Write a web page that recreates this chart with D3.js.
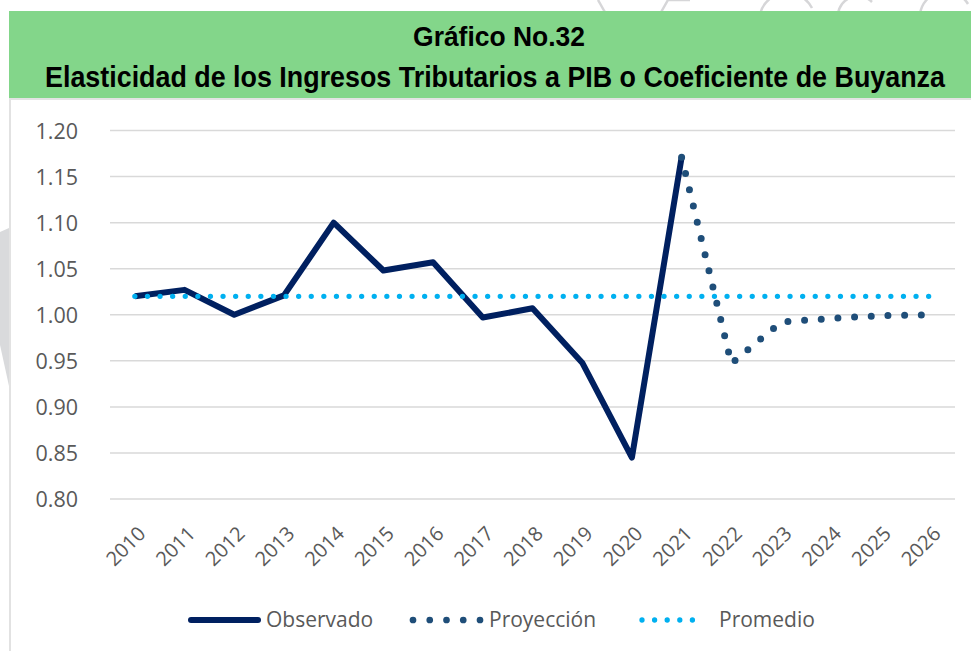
<!DOCTYPE html>
<html lang="es">
<head>
    <meta charset="UTF-8">
    <title>Gráfico No.32</title>
    <style>
        body { margin: 0; background: #fff; }
        .title text {
            font-family: "Liberation Sans Narrow", "Arial Narrow", "Liberation Sans", sans-serif;
            font-weight: bold;
            fill: #000;
        }
        .axis text, .legend text {
            font-family: "Open Sans", "Noto Sans", sans-serif;
            fill: #595959;
        }
        .grid line { stroke: #d9d9d9; stroke-width: 1.5px; }
        .mark { fill: none; stroke: #d6d6d8; stroke-width: 2.5px; }
    </style>
    <script src="https://d3js.org/d3.v7.min.js"></script>
</head>
<body>
    <script>
        // Data
        const years = ["2010", "2011", "2012", "2013", "2014", "2015", "2016", "2017", "2018",
                       "2019", "2020", "2021", "2022", "2023", "2024", "2025", "2026"];
        const observado = [1.02, 1.027, 1.00, 1.021, 1.10, 1.048, 1.057, 0.997, 1.007, 0.948, 0.845, 1.171,
                           null, null, null, null, null];
        const proyeccion = [null, null, null, null, null, null, null, null, null, null, null, 1.171,
                            0.947, 0.992, 0.996, 0.999, 1.000];
        const promedio = [1.02, 1.02, 1.02, 1.02, 1.02, 1.02, 1.02, 1.02, 1.02, 1.02, 1.02, 1.02,
                          1.02, 1.02, 1.02, 1.02, 1.02];
        const yTicks = [0.80, 0.85, 0.90, 0.95, 1.00, 1.05, 1.10, 1.15, 1.20];
        const titleLines = ["Gráfico No.32", "Elasticidad de los Ingresos Tributarios a PIB o Coeficiente de Buyanza"];

        const width = 971, height = 651;
        const svg = d3.select("body").append("svg")
            .attr("width", width).attr("height", height);

        // faint watermark bits behind the chart
        const wm = svg.append("g").attr("class", "mark");
        wm.append("path").attr("d", "M598,0 L606,14");
        wm.append("path").attr("d", "M660,14 L668,0 M668,0 L690,0");
        wm.append("path").attr("d", "M760,14 A28,28 0 0 1 812,8");
        wm.append("path").attr("d", "M838,14 A20,20 0 0 1 872,2");
        wm.append("path").attr("d", "M920,14 A26,26 0 0 1 968,4");
        svg.append("polygon")
            .attr("points", "0,232 9,228 9,386 0,345")
            .attr("fill", "#d9dadc");

        // frame + header band
        svg.append("line")
            .attr("x1", 10).attr("x2", 10).attr("y1", 98).attr("y2", height)
            .attr("stroke", "#d9d9d9").attr("stroke-width", 1.5);
        svg.append("rect")
            .attr("x", 9).attr("y", 98).attr("width", width - 9).attr("height", 2)
            .attr("fill", "#e3e3e3");
        svg.append("rect")
            .attr("x", 9).attr("y", 11).attr("width", width - 9).attr("height", 87)
            .attr("fill", "#83d68a");

        // title, squeezed horizontally to the narrow look of the original
        const title = svg.append("g").attr("class", "title");
        const titleSpec = [
            { text: titleLines[0], cx: 499, y: 46, size: 28, w: 172 },
            { text: titleLines[1], cx: 495, y: 87, size: 30, w: 900 }
        ];
        titleSpec.forEach(t => {
            const g = title.append("g").attr("transform", `translate(${t.cx},${t.y})`);
            const txt = g.append("text").attr("text-anchor", "middle")
                .style("font-size", t.size + "px").text(t.text);
            const natural = txt.node().getComputedTextLength();
            txt.attr("transform", `scale(${t.w / natural},1)`);
        });

        // scales
        const x = d3.scaleBand().domain(years).range([110, 955]);
        const y = d3.scaleLinear().domain([0.8, 1.2]).range([499, 130.5]);
        const cx = d => x(d) + x.bandwidth() / 2;

        svg.append("g").attr("class", "grid")
            .selectAll("line").data(yTicks).enter().append("line")
            .attr("x1", 110).attr("x2", 955)
            .attr("y1", d => y(d)).attr("y2", d => y(d));

        const yAxis = svg.append("g").attr("class", "axis")
            .attr("transform", "translate(78,0)")
            .call(d3.axisLeft(y).tickValues(yTicks).tickFormat(d3.format(".2f")).tickSize(0).tickPadding(0));
        yAxis.select(".domain").remove();
        yAxis.selectAll("text").style("font-size", "21.5px").attr("dy", "0.35em");

        const xAxis = svg.append("g").attr("class", "axis")
            .attr("transform", "translate(0,530)")
            .call(d3.axisBottom(x).tickSize(0).tickPadding(0));
        xAxis.select(".domain").remove();
        xAxis.selectAll("text")
            .style("font-size", "20px")
            .attr("text-anchor", "end")
            .attr("dy", "0.35em")
            .attr("transform", "translate(7,0) rotate(-45)");

        const line = d3.line()
            .defined(d => d.v != null)
            .x(d => cx(d.year))
            .y(d => y(d.v));
        const toPts = arr => years.map((yr, i) => ({ year: yr, v: arr[i] }));

        svg.append("path").datum(toPts(observado))
            .attr("d", line).attr("fill", "none")
            .attr("stroke", "#002060").attr("stroke-width", 6)
            .attr("stroke-linejoin", "round");

        svg.append("path").datum(toPts(proyeccion))
            .attr("d", line).attr("fill", "none")
            .attr("stroke", "#1f4e79").attr("stroke-width", 7)
            .attr("stroke-linecap", "round")
            .attr("stroke-dasharray", "0 16.7");

        svg.append("path").datum(toPts(promedio))
            .attr("d", line).attr("fill", "none")
            .attr("stroke", "#00b0f0").attr("stroke-width", 5.3)
            .attr("stroke-linecap", "round")
            .attr("stroke-dasharray", "0 12.6");

        // legend
        const legend = svg.append("g").attr("class", "legend");
        const ly = 620;
        legend.append("line")
            .attr("x1", 191).attr("x2", 258).attr("y1", ly).attr("y2", ly)
            .attr("stroke", "#002060").attr("stroke-width", 6).attr("stroke-linecap", "round");
        legend.append("line")
            .attr("x1", 413).attr("x2", 481).attr("y1", ly).attr("y2", ly)
            .attr("stroke", "#1f4e79").attr("stroke-width", 6.7).attr("stroke-linecap", "round")
            .attr("stroke-dasharray", "0 16.75");
        legend.append("line")
            .attr("x1", 642).attr("x2", 705).attr("y1", ly).attr("y2", ly)
            .attr("stroke", "#00b0f0").attr("stroke-width", 5.3).attr("stroke-linecap", "round")
            .attr("stroke-dasharray", "0 12.6");
        const labels = [["Observado", 266], ["Proyección", 489], ["Promedio", 719]];
        legend.selectAll("text").data(labels).enter().append("text")
            .attr("x", d => d[1]).attr("y", ly).attr("dy", "0.35em")
            .style("font-size", "21px")
            .text(d => d[0]);
    </script>
</body>
</html>
